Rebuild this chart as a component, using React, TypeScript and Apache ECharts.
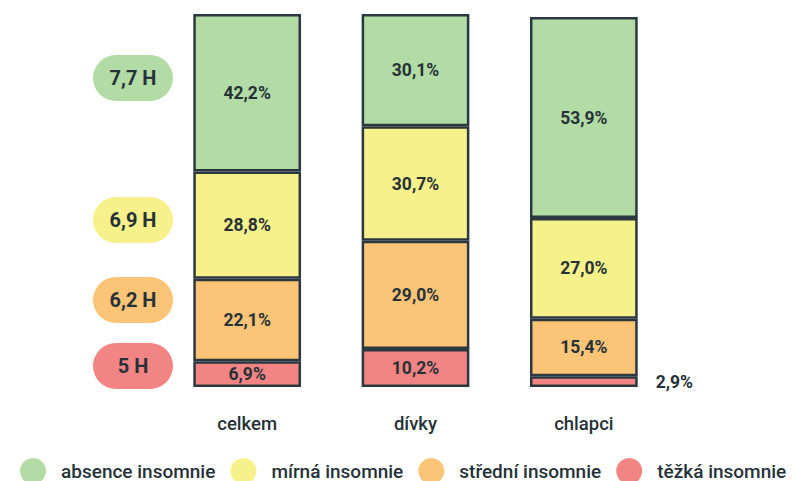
import React, { useEffect, useRef } from "react";
import * as echarts from "echarts";

const categories = ["celkem", "dívky", "chlapci"];
const absence = [42.2, 30.1, 53.9];
const mirna = [28.8, 30.7, 27.0];
const stredni = [22.1, 29.0, 15.4];
const tezka = [6.9, 10.2, 2.9];
const seriesNames = ["absence insomnie", "mírná insomnie", "střední insomnie", "těžká insomnie"];
const colors = ["#b3dba5", "#f6f18a", "#fcc476", "#f28583"];
const sleepLabels = ["7,7 H", "6,9 H", "6,2 H", "5 H"];
const sleepLabelY = [78, 220, 300, 366];

const TEXT = "#263238";
const BORDER = "#2b3840";
const FONT = "Roboto, 'Noto Sans', sans-serif";

const fmt = (v: number) => v.toFixed(1).replace(".", ",") + "%";

export default function App() {
  const ref = useRef<HTMLDivElement>(null);
  useEffect(() => {
    if (!ref.current) return;
    const chart = echarts.init(ref.current, undefined, { renderer: "svg" });
    const mk = (name: string, data: number[], color: string, outsideIdx: number[] = []) => ({
      name,
      type: "bar",
      stack: "s",
      barWidth: "64%",
      data: data.map((v, i) =>
        outsideIdx.includes(i)
          ? { value: v, label: { position: "right", distance: 18 } }
          : v
      ),
      itemStyle: { color, borderColor: BORDER, borderWidth: 2.5 },
      label: {
        show: true,
        position: "inside",
        formatter: (p: any) => fmt(p.value),
        fontFamily: FONT,
        fontWeight: "bold",
        fontSize: 17.5,
        color: TEXT,
      },
    });
    chart.setOption({
      animation: false,
      grid: { left: 163, right: 128, top: 14, bottom: 94 },
      xAxis: {
        type: "category",
        data: categories,
        axisLine: { show: false },
        axisTick: { show: false },
        axisLabel: { margin: 27, fontSize: 18.5, color: TEXT, fontFamily: FONT, fontWeight: 500 },
      },
      yAxis: { type: "value", min: 0, max: 100, show: false, splitLine: { show: false } },
      legend: {
        data: seriesNames,
        bottom: -3,
        left: 20,
        padding: 0,
        icon: "circle",
        itemWidth: 28,
        itemHeight: 26,
        itemGap: 15,
        itemStyle: { borderWidth: 0 },
        textStyle: { fontSize: 19, color: TEXT, fontFamily: FONT, fontWeight: 500, padding: [0, 0, 0, 9] },
      },
      graphic: sleepLabels.map((t, i) => ({
        type: "group",
        left: 93,
        top: sleepLabelY[i] - 23,
        children: [
          { type: "rect", shape: { x: 0, y: 0, width: 80, height: 46, r: 23 }, style: { fill: colors[i] } },
          {
            type: "text",
            x: 40,
            y: 23,
            style: {
              text: t,
              fill: TEXT,
              font: `bold 20px ${FONT}`,
              align: "center",
              verticalAlign: "middle",
            },
          },
        ],
      })),
      series: [
        mk(seriesNames[3], tezka, colors[3], [2]),
        mk(seriesNames[2], stredni, colors[2]),
        mk(seriesNames[1], mirna, colors[1]),
        mk(seriesNames[0], absence, colors[0]),
      ],
    });
    return () => chart.dispose();
  }, []);
  return <div ref={ref} style={{ width: 796, height: 481, position: "absolute", left: 0, top: 0 }} />;
}
